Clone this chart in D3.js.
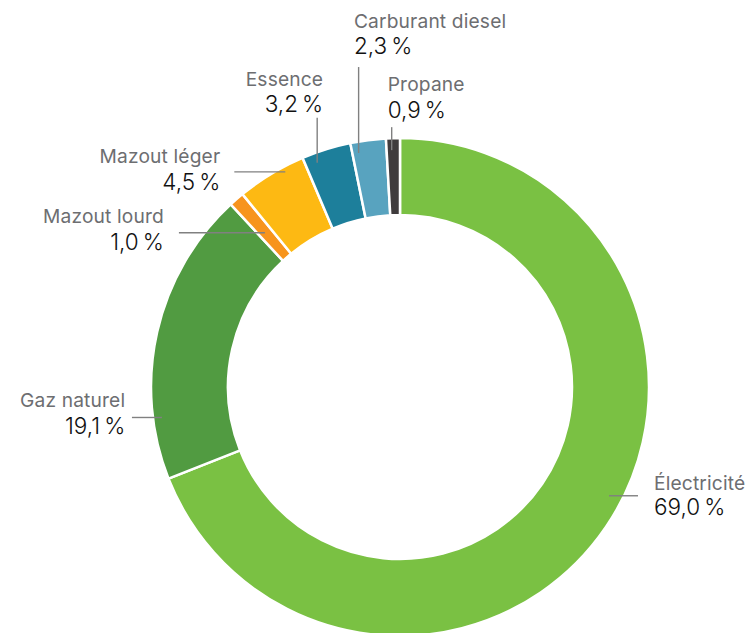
<!DOCTYPE html>
<html><head><meta charset="utf-8">
<script src="https://cdn.jsdelivr.net/npm/d3@7"></script>
<style>
html,body{margin:0;padding:0;background:#fff;}
svg{display:block;}
</style></head>
<body>
<svg id="chart" width="752" height="633"></svg>
<script>
// ---- data ----
const categories = ["Électricité", "Gaz naturel", "Mazout lourd", "Mazout léger", "Essence", "Carburant diesel", "Propane"];
const values = [69.0, 19.1, 1.0, 4.5, 3.2, 2.3, 0.9];
const colors = ["#7ac143", "#519b41", "#f7941d", "#fdb913", "#1d7f9b", "#58a3bf", "#403c3d"];

// ---- label layout (annotation placement, not data) ----
const labelLayout = [
  {frac: 0.473, r: 235.6, dir: "right", len: 29, tx: 16, anchor: "start", nameDy: -5.7, valDy: 19.3},
  {frac: 0.208, r: 240,   dir: "left",  len: 30, tx: -6.7, anchor: "end", nameDy: -10.7, valDy: 16.3},
  {frac: 0.45,  r: 205,   dir: "left",  len: 86, tx: -15, anchor: "end", nameDy: -9.7, valDy: 17.3},
  {frac: 0.69,  r: 243.8, dir: "left",  len: 51, tx: -14, anchor: "end", nameDy: -9, valDy: 18},
  {frac: 0.24,  r: 239,   dir: "up",    len: 45, tx: 6, anchor: "end", nameDy: -32, valDy: -6},
  {frac: 0.18,  r: 237.6, dir: "up",    len: 86, tx: -4.7, anchor: "start", nameDy: -39, valDy: -13},
  {frac: 0.38,  r: 237,   dir: "up",    len: 23, tx: -4, anchor: "start", nameDy: -36, valDy: -9}
];

const svg = d3.select("#chart");
const cx = 400, cy = 387, outerR = 249, innerR = 172;
const g = svg.append("g").attr("transform", `translate(${cx},${cy})`);

const data = categories.map((c, i) => ({name: c, value: values[i], color: colors[i], lay: labelLayout[i]}));
const pie = d3.pie().value(d => d.value).sort(null);
const arcs = pie(data);
const arc = d3.arc().innerRadius(innerR).outerRadius(outerR);

g.selectAll("path.slice").data(arcs).join("path")
  .attr("class", "slice")
  .attr("d", arc)
  .attr("fill", d => d.data.color)
  .attr("stroke", "#fff")
  .attr("stroke-width", 2.5)
  .attr("stroke-linejoin", "miter");

const fmt = v => d3.format(".1f")(v).replace(".", ",") + "\u202f%";

arcs.forEach(a => {
  const L = a.data.lay;
  const ang = a.startAngle + (a.endAngle - a.startAngle) * L.frac;
  const x0 = L.r * Math.sin(ang), y0 = -L.r * Math.cos(ang);
  let x1 = x0, y1 = y0;
  if (L.dir === "right") x1 = x0 + L.len;
  if (L.dir === "left") x1 = x0 - L.len;
  if (L.dir === "up") y1 = y0 - L.len;
  g.append("line").attr("x1", x0).attr("y1", y0).attr("x2", x1).attr("y2", y1)
    .attr("stroke", "#808080").attr("stroke-width", 1.4);
  const tx = x1 + L.tx;
  g.append("text").attr("x", tx).attr("y", y1 + L.nameDy)
    .attr("text-anchor", L.anchor)
    .attr("font-family", "Inter, 'Noto Sans', sans-serif")
    .attr("font-size", 19.2).attr("letter-spacing", 0.15).attr("fill", "#6d6e71")
    .text(a.data.name);
  g.append("text").attr("x", tx).attr("y", y1 + L.valDy)
    .attr("text-anchor", L.anchor)
    .attr("font-family", "Inter, 'Noto Sans', sans-serif")
    .attr("font-size", 22.5).attr("font-weight", 350).attr("fill", "#111")
    .text(fmt(a.data.value));
});
</script>
</body></html>
